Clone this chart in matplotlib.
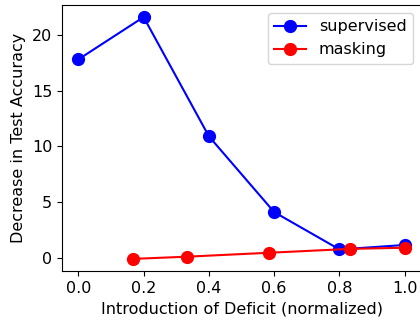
import numpy as np
import matplotlib
matplotlib.use('Agg')
import matplotlib.pyplot as plt

# deficit onset (normalized) and drop in test accuracy
sup_x = [0.0, 0.2, 0.4, 0.6, 0.8, 1.0]
sup_y = [17.8, 21.6, 10.9, 4.1, 0.75, 1.15]
mask_x = [1 / 6, 2 / 6, 3.5 / 6, 5 / 6, 1.0]
mask_y = [-0.1, 0.1, 0.45, 0.8, 0.9]

plt.rcParams['font.size'] = 11.5

fig = plt.figure(figsize=(4.2, 3.24), dpi=100)
ax = fig.add_axes([0.1476, 0.1636, 0.855, 0.821])

ax.plot(sup_x, sup_y, 'o-', color='blue', label='supervised', markersize=8.5)
ax.plot(mask_x, mask_y, 'o-', color='red', label='masking', markersize=8.5)

ax.set_xlabel('Introduction of Deficit (normalized)')
ax.set_ylabel('Decrease in Test Accuracy')
ax.set_xticks([0.0, 0.2, 0.4, 0.6, 0.8, 1.0])
ax.set_yticks([0, 5, 10, 15, 20])
ax.legend(loc='upper right')

fig.savefig('out.png', dpi=100)
